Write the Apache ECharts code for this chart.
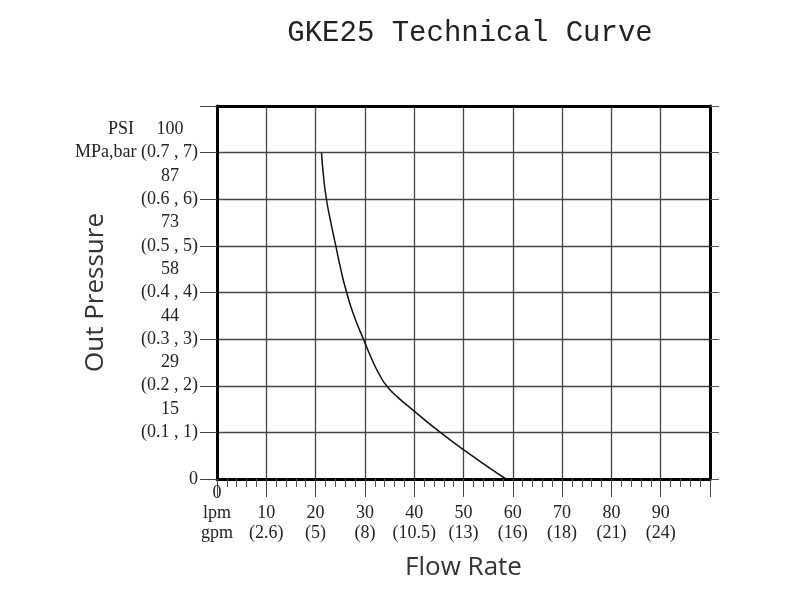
<!DOCTYPE html>
<html>
<head>
<meta charset="utf-8">
<script src="https://cdn.jsdelivr.net/npm/echarts@6/dist/echarts.min.js"></script>
<style>
  html, body { margin: 0; background: #fff; }
  #chart { width: 800px; height: 600px; }
</style>
</head>
<body>
<div id="chart"></div>
<script>
// flow rate in lpm, gpm labels under each lpm tick
const lpmTicks = [0, 10, 20, 30, 40, 50, 60, 70, 80, 90];
const gpmLabels = ['', '(2.6)', '(5)', '(8)', '(10.5)', '(13)', '(16)', '(18)', '(21)', '(24)'];

// pressure in bar, MPa/bar labels and psi labels
const barLabels = ['0', '(0.1 , 1)', '(0.2 , 2)', '(0.3 , 3)', '(0.4 , 4)', '(0.5 , 5)', '(0.6 , 6)', 'MPa,bar (0.7 , 7)'];
const psiLabels = ['15', '29', '44', '58', '73', '87', '100'];

// curve
const curveFlow = [21.2, 21.6, 22.2, 23.1, 24.1, 25.1, 26.3, 27.8, 29.7, 31.7, 32.9, 34.4, 36.7, 39.5, 45.3, 51.7, 58.6];
const curvePressure = [7, 6.5, 6, 5.5, 5, 4.5, 4, 3.5, 3, 2.5, 2.25, 2, 1.75, 1.5, 1, 0.5, 0];

const serif = 'Liberation Serif';
const ink = '#222';

const drawChart = (domElement) => {
  const chart = echarts.init(domElement);
  const option = {
    animation: false,
    backgroundColor: '#fff',
    title: {
      text: 'GKE25 Technical Curve',
      left: 465,
      top: 14,
      textAlign: 'center',
      textStyle: { fontFamily: 'Liberation Mono', fontSize: 29, fontWeight: 'normal', color: ink },
    },
    graphic: [
      {
        type: 'text',
        left: 108,
        top: 120,
        style: { text: 'PSI', font: '18px "Liberation Serif"', fill: ink },
      },
    ],
    grid: { left: 217, right: 90, top: 106, bottom: 121 },
    xAxis: [
      {
        type: 'value',
        min: 0,
        max: 100,
        interval: 10,
        name: 'Flow Rate',
        nameLocation: 'middle',
        nameGap: 76,
        nameMoveOverlap: false,
        nameTextStyle: { fontFamily: 'Open Sans', fontSize: 26, color: '#333' },
        axisLine: { show: true, onZero: false, lineStyle: { color: '#000', width: 3 } },
        axisTick: { show: true, length: 18, lineStyle: { color: '#444' } },
        minorTick: { show: true, splitNumber: 5, length: 8, lineStyle: { color: '#555' } },
        splitLine: { show: true, lineStyle: { color: '#444', width: 1.3 } },
        axisLabel: {
          margin: 4,
          fontFamily: serif,
          fontSize: 18,
          lineHeight: 20,
          color: ink,
          formatter: (v) => {
            const i = lpmTicks.indexOf(v);
            if (i === 0) return '0\nlpm\ngpm';
            if (i < 0) return '';
            return ' \n' + v + '\n' + gpmLabels[i];
          },
        },
      },
      {
        type: 'value',
        position: 'top',
        min: 0,
        max: 100,
        axisLine: { show: true, onZero: false, lineStyle: { color: '#000', width: 3 } },
        axisTick: { show: false },
        axisLabel: { show: false },
        splitLine: { show: false },
      },
    ],
    yAxis: [
      {
        type: 'value',
        min: 0,
        max: 8,
        interval: 1,
        name: 'Out Pressure',
        nameLocation: 'middle',
        nameGap: 108,
        nameMoveOverlap: false,
        nameTextStyle: { fontFamily: 'Open Sans', fontSize: 26, color: '#333' },
        axisLine: { show: true, onZero: false, lineStyle: { color: '#000', width: 3 } },
        axisTick: { show: true, length: 17, lineStyle: { color: '#444' } },
        splitLine: { show: true, lineStyle: { color: '#444', width: 1.3 } },
        axisLabel: {
          margin: 19,
          fontFamily: serif,
          fontSize: 18,
          color: ink,
          formatter: (v) => barLabels[v] || '',
        },
      },
      {
        type: 'value',
        position: 'left',
        min: 0,
        max: 8,
        interval: 0.5,
        axisLine: { show: false, onZero: false },
        axisTick: { show: false },
        splitLine: { show: false },
        axisLabel: {
          margin: 47,
          align: 'center',
          fontFamily: serif,
          fontSize: 18,
          color: ink,
          formatter: (v) => {
            const k = v - 1.5;
            return k >= 0 && Number.isInteger(k) ? psiLabels[k] : '';
          },
        },
      },
      {
        type: 'value',
        position: 'right',
        min: 0,
        max: 8,
        interval: 1,
        axisLine: { show: true, onZero: false, lineStyle: { color: '#000', width: 3 } },
        axisTick: { show: true, length: 9, lineStyle: { color: '#555' } },
        axisLabel: { show: false },
        splitLine: { show: false },
      },
    ],
    series: [
      {
        type: 'line',
        xAxisIndex: 0,
        yAxisIndex: 0,
        data: curveFlow.map((f, i) => [f, curvePressure[i]]),
        showSymbol: false,
        smooth: 0.6,
        lineStyle: { color: '#111', width: 1.5 },
      },
    ],
  };
  chart.setOption(option);
};

const $chartDom = document.querySelector('#chart');
drawChart($chartDom);
</script>
</body>
</html>
